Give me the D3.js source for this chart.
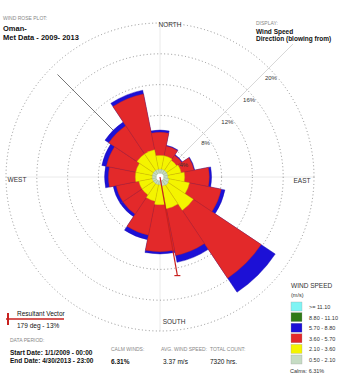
<!DOCTYPE html>
<html>
<head>
	<meta charset="utf-8">
	<title></title>
	<style>
		body { margin: 0; background: #fff; }
		text { font-family: "Liberation Sans", Arial, sans-serif; }
	</style>
</head>
<body>

<svg id="rose" width="346" height="378"></svg>

<script src="https://d3js.org/d3.v7.min.js"></script>
<script>
	// -------------------------------------------------------------
	// Wind rose data (percent of hours), direction = blowing from

	const directions = [0, 22.5, 45, 67.5, 90, 112.5, 135, 157.5, 180, 202.5, 225, 247.5, 270, 292.5, 315, 337.5]

	// one array per speed class, same order as directions
	const speed_050_210 = [1.0, 1.0, 1.0, 1.0, 1.0, 1.2, 1.3, 1.2, 1.0, 1.0, 1.0, 1.0, 1.0, 1.0, 1.0, 1.0]
	const speed_210_360 = [1.8, 1.8, 1.6, 1.8, 2.2, 2.7, 3.9, 3.0, 2.6, 2.2, 1.8, 1.8, 2.2, 2.2, 2.6, 2.6]
	const speed_360_570 = [3.0, 1.3, 0.8, 1.7, 3.2, 4.2, 10.6, 6.2, 6.1, 4.5, 3.0, 3.0, 3.5, 3.9, 4.4, 7.4]
	const speed_570_880 = [0.3, 0.1, 0.1, 0.1, 0.3, 0.5, 2.2, 0.9, 0.3, 0.6, 0.4, 0.4, 0.5, 0.6, 0.6, 0.5]
	const speed_880_1110 = [0, 0, 0, 0, 0, 0, 0, 0, 0, 0, 0, 0, 0, 0, 0, 0]
	const speed_1110_up = [0, 0, 0, 0, 0, 0, 0, 0, 0, 0, 0, 0, 0, 0, 0, 0]

	const speedLabels = ['>= 11.10', '8.80 - 11.10', '5.70 - 8.80', '3.60 - 5.70', '2.10 - 3.60', '0.50 - 2.10']
	const ringTicks = [4, 8, 12, 16, 20]

	const calmPct = 6.31
	const resultantLength = 13
	const resultantAngle = 170   // as drawn on the plot (label says 179)

	// -------------------------------------------------------------

	const bands = [speed_050_210, speed_210_360, speed_360_570, speed_570_880, speed_880_1110, speed_1110_up]
	const colors = ['#c6dcc4', '#f4f400', '#e3292a', '#1c10d6', '#2f7a17', '#7ff4f4']

	const cx = 160, cy = 177
	const svg = d3.select('#rose')

	const r = d3.scaleLinear()
		.domain([0, 20])
		.range([0, 154])

	const rad = d => d * Math.PI / 180

	// axes lines
	const g = svg.append('g').attr('transform', `translate(${cx}, ${cy})`)

	;[0, 90].forEach(a => {
		g.append('line')
			.attr('x1', -Math.sin(rad(a)) * r(20)).attr('y1', Math.cos(rad(a)) * r(20))
			.attr('x2', Math.sin(rad(a)) * r(20)).attr('y2', -Math.cos(rad(a)) * r(20))
			.attr('stroke', '#e4e4e4').attr('stroke-width', 0.8)
	})
	g.append('line')
		.attr('x1', 0).attr('y1', 0)
		.attr('x2', Math.sin(rad(45)) * 188).attr('y2', -Math.cos(rad(45)) * 188)
		.attr('stroke', '#d8d8d8').attr('stroke-width', 1)
	g.append('line')
		.attr('x1', 0).attr('y1', 0)
		.attr('x2', Math.sin(rad(315)) * 145).attr('y2', -Math.cos(rad(315)) * 145)
		.attr('stroke', '#777').attr('stroke-width', 1)

	// rings
	g.selectAll('circle.ring')
		.data(ringTicks)
		.enter()
		.append('circle')
		.attr('class', 'ring')
		.attr('r', d => r(d))
		.attr('fill', 'none')
		.attr('stroke', '#777')
		.attr('stroke-width', 0.8)
		.attr('stroke-dasharray', '1,2.5')

	// petals: stack the classes for every direction
	const arc = d3.arc()
	const petals = []
	directions.forEach((dir, i) => {
		let acc = 0
		bands.forEach((b, k) => {
			if (b[i] > 0) petals.push({dir, k, from: acc, to: acc + b[i]})
			acc += b[i]
		})
	})
	// draw outer classes first so thin inner ones stay visible
	petals.sort((a, b) => b.k - a.k)

	g.selectAll('path.petal')
		.data(petals)
		.enter()
		.append('path')
		.attr('class', 'petal')
		.attr('d', d => arc({
			innerRadius: 0,
			outerRadius: r(d.to),
			startAngle: rad(d.dir - 11.25),
			endAngle: rad(d.dir + 11.25)
		}))
		.attr('fill', d => colors[d.k])
		.attr('stroke', d => d3.color(colors[d.k]).darker(0.6))
		.attr('stroke-width', 0.4)

	// calm circle
	g.append('circle')
		.attr('r', 3.5)
		.attr('fill', '#fff')

	// ring labels along the NE diagonal
	g.selectAll('text.tick')
		.data(ringTicks)
		.enter()
		.append('text')
		.attr('class', 'tick')
		.attr('x', d => Math.sin(rad(45)) * r(d) + 2)
		.attr('y', d => -Math.cos(rad(45)) * r(d) + 12)
		.attr('text-anchor', 'middle')
		.style('font-size', '6px')
		.style('fill', '#333')
		.text(d => d + '%')

	// resultant vector
	const vx = Math.sin(rad(resultantAngle)) * r(resultantLength)
	const vy = -Math.cos(rad(resultantAngle)) * r(resultantLength)
	g.append('line')
		.attr('x1', 0).attr('y1', 0).attr('x2', vx).attr('y2', vy)
		.attr('stroke', '#c8211f').attr('stroke-width', 1.2)
	g.append('line')
		.attr('x1', vx - 3).attr('y1', vy).attr('x2', vx + 3).attr('y2', vy)
		.attr('stroke', '#c8211f').attr('stroke-width', 1.2)

	// compass labels
	const compass = [
		{t: 'NORTH', x: 170, y: 27},
		{t: 'SOUTH', x: 174, y: 324},
		{t: 'WEST', x: 17, y: 182},
		{t: 'EAST', x: 302, y: 183}
	]
	svg.selectAll('text.compass')
		.data(compass)
		.enter()
		.append('text')
		.attr('class', 'compass')
		.attr('x', d => d.x)
		.attr('y', d => d.y)
		.attr('text-anchor', 'middle')
		.style('font-size', '6.5px')
		.style('fill', '#333')
		.text(d => d.t)

	// -------------------------------------------------------------
	// annotation texts

	function label(x, y, t, size, fill, weight) {
		svg.append('text')
			.attr('x', x).attr('y', y)
			.style('font-size', size + 'px')
			.style('fill', fill)
			.style('font-weight', weight || 'normal')
			.text(t)
	}

	label(3, 20, 'WIND ROSE PLOT:', 5, '#888')
	label(3, 31, 'Oman-', 7.5, '#111', 'bold')
	label(3, 40, 'Met Data - 2009- 2013', 7.5, '#111', 'bold')

	label(256, 25, 'DISPLAY:', 5, '#888')
	label(256, 34, 'Wind Speed', 6.5, '#111', 'bold')
	label(256, 41, 'Direction (blowing from)', 6.5, '#111', 'bold')

	// resultant vector key
	svg.append('line').attr('x1', 6).attr('y1', 319).attr('x2', 64).attr('y2', 319)
		.attr('stroke', '#c8211f').attr('stroke-width', 1.5)
	svg.append('line').attr('x1', 8).attr('y1', 313).attr('x2', 8).attr('y2', 325)
		.attr('stroke', '#c8211f').attr('stroke-width', 2)
	label(17, 316, 'Resultant Vector', 6.5, '#111')
	label(17, 328, '179 deg - 13%', 6.5, '#111')

	label(10, 342, 'DATA PERIOD:', 5, '#888')
	label(10, 355, 'Start Date: 1/1/2009 - 00:00', 6.5, '#111', 'bold')
	label(10, 363, 'End Date: 4/30/2013 - 23:00', 6.5, '#111', 'bold')

	label(111, 351, 'CALM WINDS:', 5, '#888')
	label(111, 364, calmPct + '%', 6.5, '#111', 'bold')
	label(161, 351, 'AVG. WIND SPEED:', 5, '#888')
	label(163, 364, '3.37 m/s', 6.5, '#111')
	label(210, 351, 'TOTAL COUNT:', 5, '#888')
	label(210, 364, '7320 hrs.', 6.5, '#111')

	// speed legend
	label(291, 288, 'WIND SPEED', 6.5, '#333')
	label(291, 297, '(m/s)', 5.5, '#333')
	const legendColors = colors.slice().reverse()
	const lg = svg.selectAll('g.key')
		.data(speedLabels)
		.enter()
		.append('g')
		.attr('class', 'key')
		.attr('transform', (d, i) => `translate(291, ${302 + i * 10.6})`)
	lg.append('rect')
		.attr('width', 11).attr('height', 9)
		.attr('fill', (d, i) => legendColors[i])
		.attr('stroke', '#999').attr('stroke-width', 0.3)
	lg.append('text')
		.attr('x', 18).attr('y', 7)
		.style('font-size', '5.5px')
		.style('fill', '#333')
		.text(d => d)
	label(290, 373, 'Calms: ' + calmPct + '%', 5.5, '#333')
</script>
</body>
</html>
